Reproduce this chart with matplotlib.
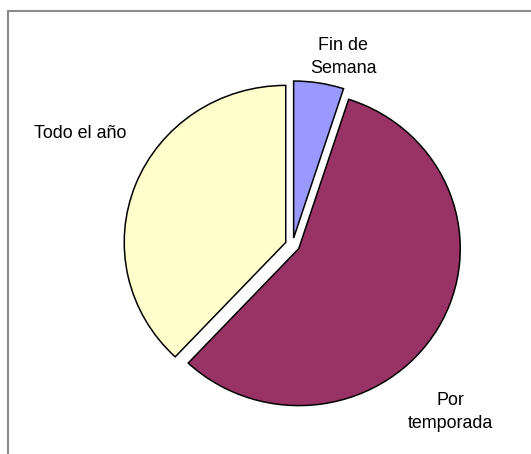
import matplotlib
matplotlib.use('Agg')
import matplotlib.pyplot as plt
from matplotlib.lines import Line2D

plt.rcParams['font.family'] = ['Liberation Sans', 'DejaVu Sans']

# datos
labels = ['Fin de\nSemana', 'Por\ntemporada', 'Todo el año']
values = [5, 57, 38]
colors = ['#9999FF', '#993366', '#FFFFCC']

W, H = 531, 454
fig = plt.figure(figsize=(W / 100, H / 100), dpi=100)
fig.patch.set_facecolor('white')

# centro y radios del pastel en píxeles (ligeramente elíptico)
cx, cy = 292.5, 245.0
rx, ry = 161.5, 157.0

ax = fig.add_axes([0, 0, 1, 1])
ax.pie(values, colors=colors, startangle=90, counterclock=False,
       explode=[0.045, 0.045, 0.045],
       wedgeprops=dict(edgecolor='black', linewidth=1.1))
ax.set_aspect('auto')
ax.set_xlim((0 - cx) / rx, (W - cx) / rx)
ax.set_ylim((cy - H) / ry, cy / ry)
ax.axis('off')

# etiquetas
label_pos = [(343, 57), (450, 412), (80, 133)]
for lab, (px, py) in zip(labels, label_pos):
    fig.text(px / W, 1 - py / H, lab, ha='center', va='center',
             fontsize=12.9, linespacing=1.45, color='black')

# marco del gráfico
fig.add_artist(Line2D([7.5 / W, 7.5 / W], [0, 1 - 10.5 / H], color='#8c8c8c', linewidth=1.5))
fig.add_artist(Line2D([7.5 / W, 1], [1 - 10.5 / H, 1 - 10.5 / H], color='#8c8c8c', linewidth=1.5))

plt.savefig('out.png', dpi=100)
plt.close()
